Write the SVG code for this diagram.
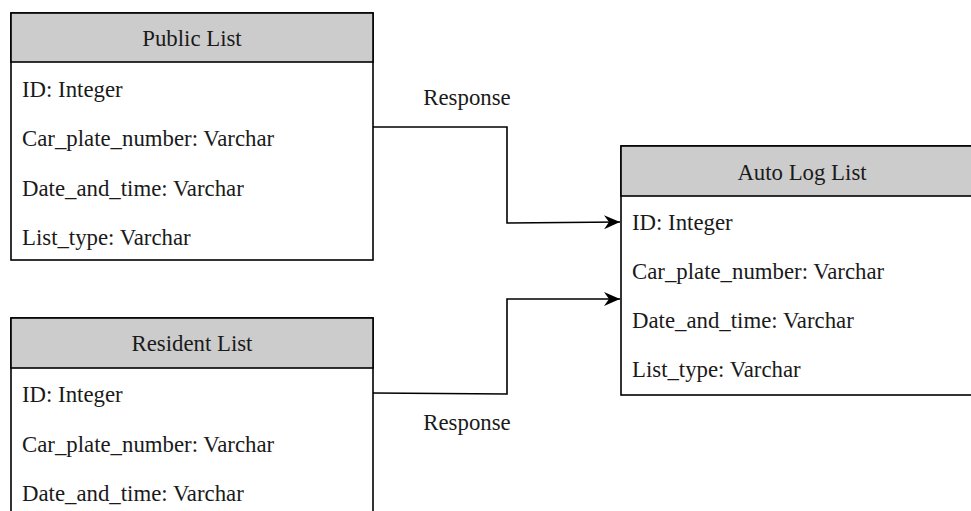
<svg xmlns="http://www.w3.org/2000/svg" width="971" height="511" viewBox="0 0 971 511">
  <style>
    .box { fill: #ffffff; stroke: #000000; stroke-width: 1.6; }
    .head { fill: #cccccc; stroke: #000000; stroke-width: 1.6; }
    .t { font-family: 'Liberation Serif', 'Times New Roman', serif; font-size: 22.8px; fill: #1a1a1a; }
    .c { text-anchor: middle; }
    .edge { fill: none; stroke: #000000; stroke-width: 1.6; }
  </style>
  <defs>
    <!-- classic filled arrowhead used by both links -->
    <marker id="arrow" markerWidth="20" markerHeight="18" refX="16" refY="9" orient="auto" markerUnits="userSpaceOnUse">
      <path d="M0,2 L16,9 L0,16 L5,9 Z" fill="#000000"/>
    </marker>
  </defs>
  <rect width="971" height="511" fill="#ffffff"/>

  <g id="connectors">
    <path class="edge" d="M373,127 L507,127 L507,223 L620,222" marker-end="url(#arrow)"/>
    <path class="edge" d="M373,393 L507,394 L507,299 L620,299" marker-end="url(#arrow)"/>
    <text class="t c" x="467" y="105">Response</text>
    <text class="t c" x="467" y="430">Response</text>
  </g>

  <g id="public-list">
    <rect class="box" x="11" y="13" width="362" height="247"/>
    <rect class="head" x="11" y="13" width="362" height="49"/>
    <text class="t c" x="192" y="46">Public List</text>
    <text class="t" x="22" y="97">ID: Integer</text>
    <text class="t" x="22" y="146">Car_plate_number: Varchar</text>
    <text class="t" x="22" y="196">Date_and_time: Varchar</text>
    <text class="t" x="22" y="245">List_type: Varchar</text>
  </g>

  <g id="resident-list">
    <rect class="box" x="11" y="318" width="362" height="247"/>
    <rect class="head" x="11" y="318" width="362" height="50"/>
    <text class="t c" x="192" y="351">Resident List</text>
    <text class="t" x="22" y="402">ID: Integer</text>
    <text class="t" x="22" y="452">Car_plate_number: Varchar</text>
    <text class="t" x="22" y="501">Date_and_time: Varchar</text>
  </g>

  <g id="auto-log-list">
    <rect class="box" x="621" y="146" width="362" height="249"/>
    <rect class="head" x="621" y="146" width="362" height="50"/>
    <text class="t c" x="802" y="180">Auto Log List</text>
    <text class="t" x="632" y="230">ID: Integer</text>
    <text class="t" x="632" y="279">Car_plate_number: Varchar</text>
    <text class="t" x="632" y="328">Date_and_time: Varchar</text>
    <text class="t" x="632" y="377">List_type: Varchar</text>
  </g>
</svg>
